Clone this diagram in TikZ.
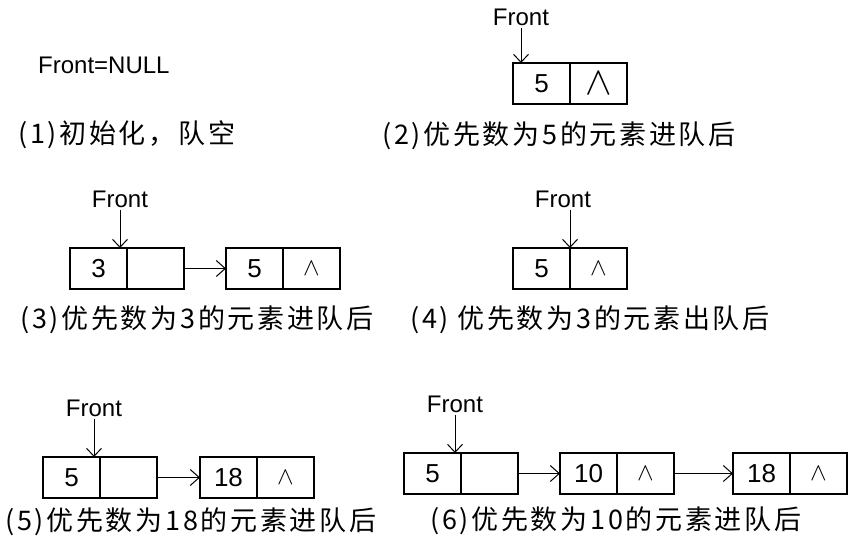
\documentclass[tikz,border=0pt]{standalone}
\usepackage{fontspec}
\setmainfont{Liberation Sans}
\newfontfamily\cjk[LetterSpace=10]{Noto Sans CJK SC}
\usetikzlibrary{positioning,arrows.meta}

\begin{document}
\begin{tikzpicture}[x=1pt,y=-1pt,
    cell/.style={draw,line width=1.5pt,minimum width=57pt,minimum height=41pt,
      outer sep=0pt,inner sep=0pt,font=\fontsize{26}{26}\selectfont},
    lbl/.style={font=\fontsize{24}{24}\selectfont,inner sep=2pt},
    capline/.style={anchor=west,inner sep=0pt,font=\cjk\fontsize{27}{27}\selectfont},
    ptr/.style={line width=1pt,-{Straight Barb[length=8pt,width=15pt]}},
    link/.style={line width=1.5pt,-{Straight Barb[length=9pt,width=16pt,line width=1pt]}}]
  \useasboundingbox (0,0) rectangle (854,545);
  \def\nulsym{{\fontsize{24}{24}\selectfont$\wedge$}}
  \def\nulbig{\scalebox{1.6}{\fontsize{24}{24}\selectfont$\wedge$}}
  % (1) empty queue
  \node[lbl,anchor=west] (f1) at (36,65) {Front=NULL};
  \node[capline] (cap1) at (18,135) {(1)初始化，队空};
  % (2) enqueue 5
  \node[lbl] (f2) at (521,17) {Front};
  \node[cell,anchor=north west] (c2a) at (513,63) {5};
  \node[cell,anchor=west] (c2b) at (c2a.east) {\nulbig};
  \draw[ptr] (f2.south) -- (f2.south |- c2a.north);
  \node[capline] (cap2) at (382,136) {(2)优先数为5的元素进队后};
  % (3) enqueue 3
  \node[lbl] (f3) at (120,199) {Front};
  \node[cell,anchor=north west] (c3a) at (70,248) {3};
  \node[cell,anchor=west] (c3b) at (c3a.east) {};
  \node[cell,right=42pt of c3b] (c3c) {5};
  \node[cell,anchor=west] (c3d) at (c3c.east) {\nulsym};
  \draw[ptr] (f3.south) -- (f3.south |- c3a.north);
  \draw[link] (c3b.east) -- (c3c.west);
  \node[capline] (cap3) at (20,320) {(3)优先数为3的元素进队后};
  % (4) dequeue 3
  \node[lbl] (f4) at (563,199) {Front};
  \node[cell,anchor=north west] (c4a) at (513,248) {5};
  \node[cell,anchor=west] (c4b) at (c4a.east) {\nulsym};
  \draw[ptr] (c4a.north east |- f4.south) -- (c4a.north east);
  \node[capline] (cap4) at (410,320) {(4) 优先数为3的元素出队后};
  % (5) enqueue 18
  \node[lbl] (f5) at (94,408) {Front};
  \node[cell,anchor=north west] (c5a) at (43,457) {5};
  \node[cell,anchor=west] (c5b) at (c5a.east) {};
  \node[cell,right=43pt of c5b] (c5c) {18};
  \node[cell,anchor=west] (c5d) at (c5c.east) {\nulsym};
  \draw[ptr] (f5.south) -- (f5.south |- c5a.north);
  \draw[link] (c5b.east) -- (c5c.west);
  \node[capline] (cap5) at (5,522) {(5)优先数为18的元素进队后};
  % (6) enqueue 10
  \node[lbl] (f6) at (455,404) {Front};
  \node[cell,anchor=north west] (c6a) at (404,453) {5};
  \node[cell,anchor=west] (c6b) at (c6a.east) {};
  \node[cell,right=42pt of c6b] (c6c) {10};
  \node[cell,anchor=west] (c6d) at (c6c.east) {\nulsym};
  \node[cell,right=59pt of c6d] (c6e) {18};
  \node[cell,anchor=west] (c6f) at (c6e.east) {\nulsym};
  \draw[ptr] (f6.south) -- (f6.south |- c6a.north);
  \draw[link] (c6b.east) -- (c6c.west);
  \draw[link] (c6d.east) -- (c6e.west);
  \node[capline] (cap6) at (430,521) {(6)优先数为10的元素进队后};
\end{tikzpicture}
\end{document}
